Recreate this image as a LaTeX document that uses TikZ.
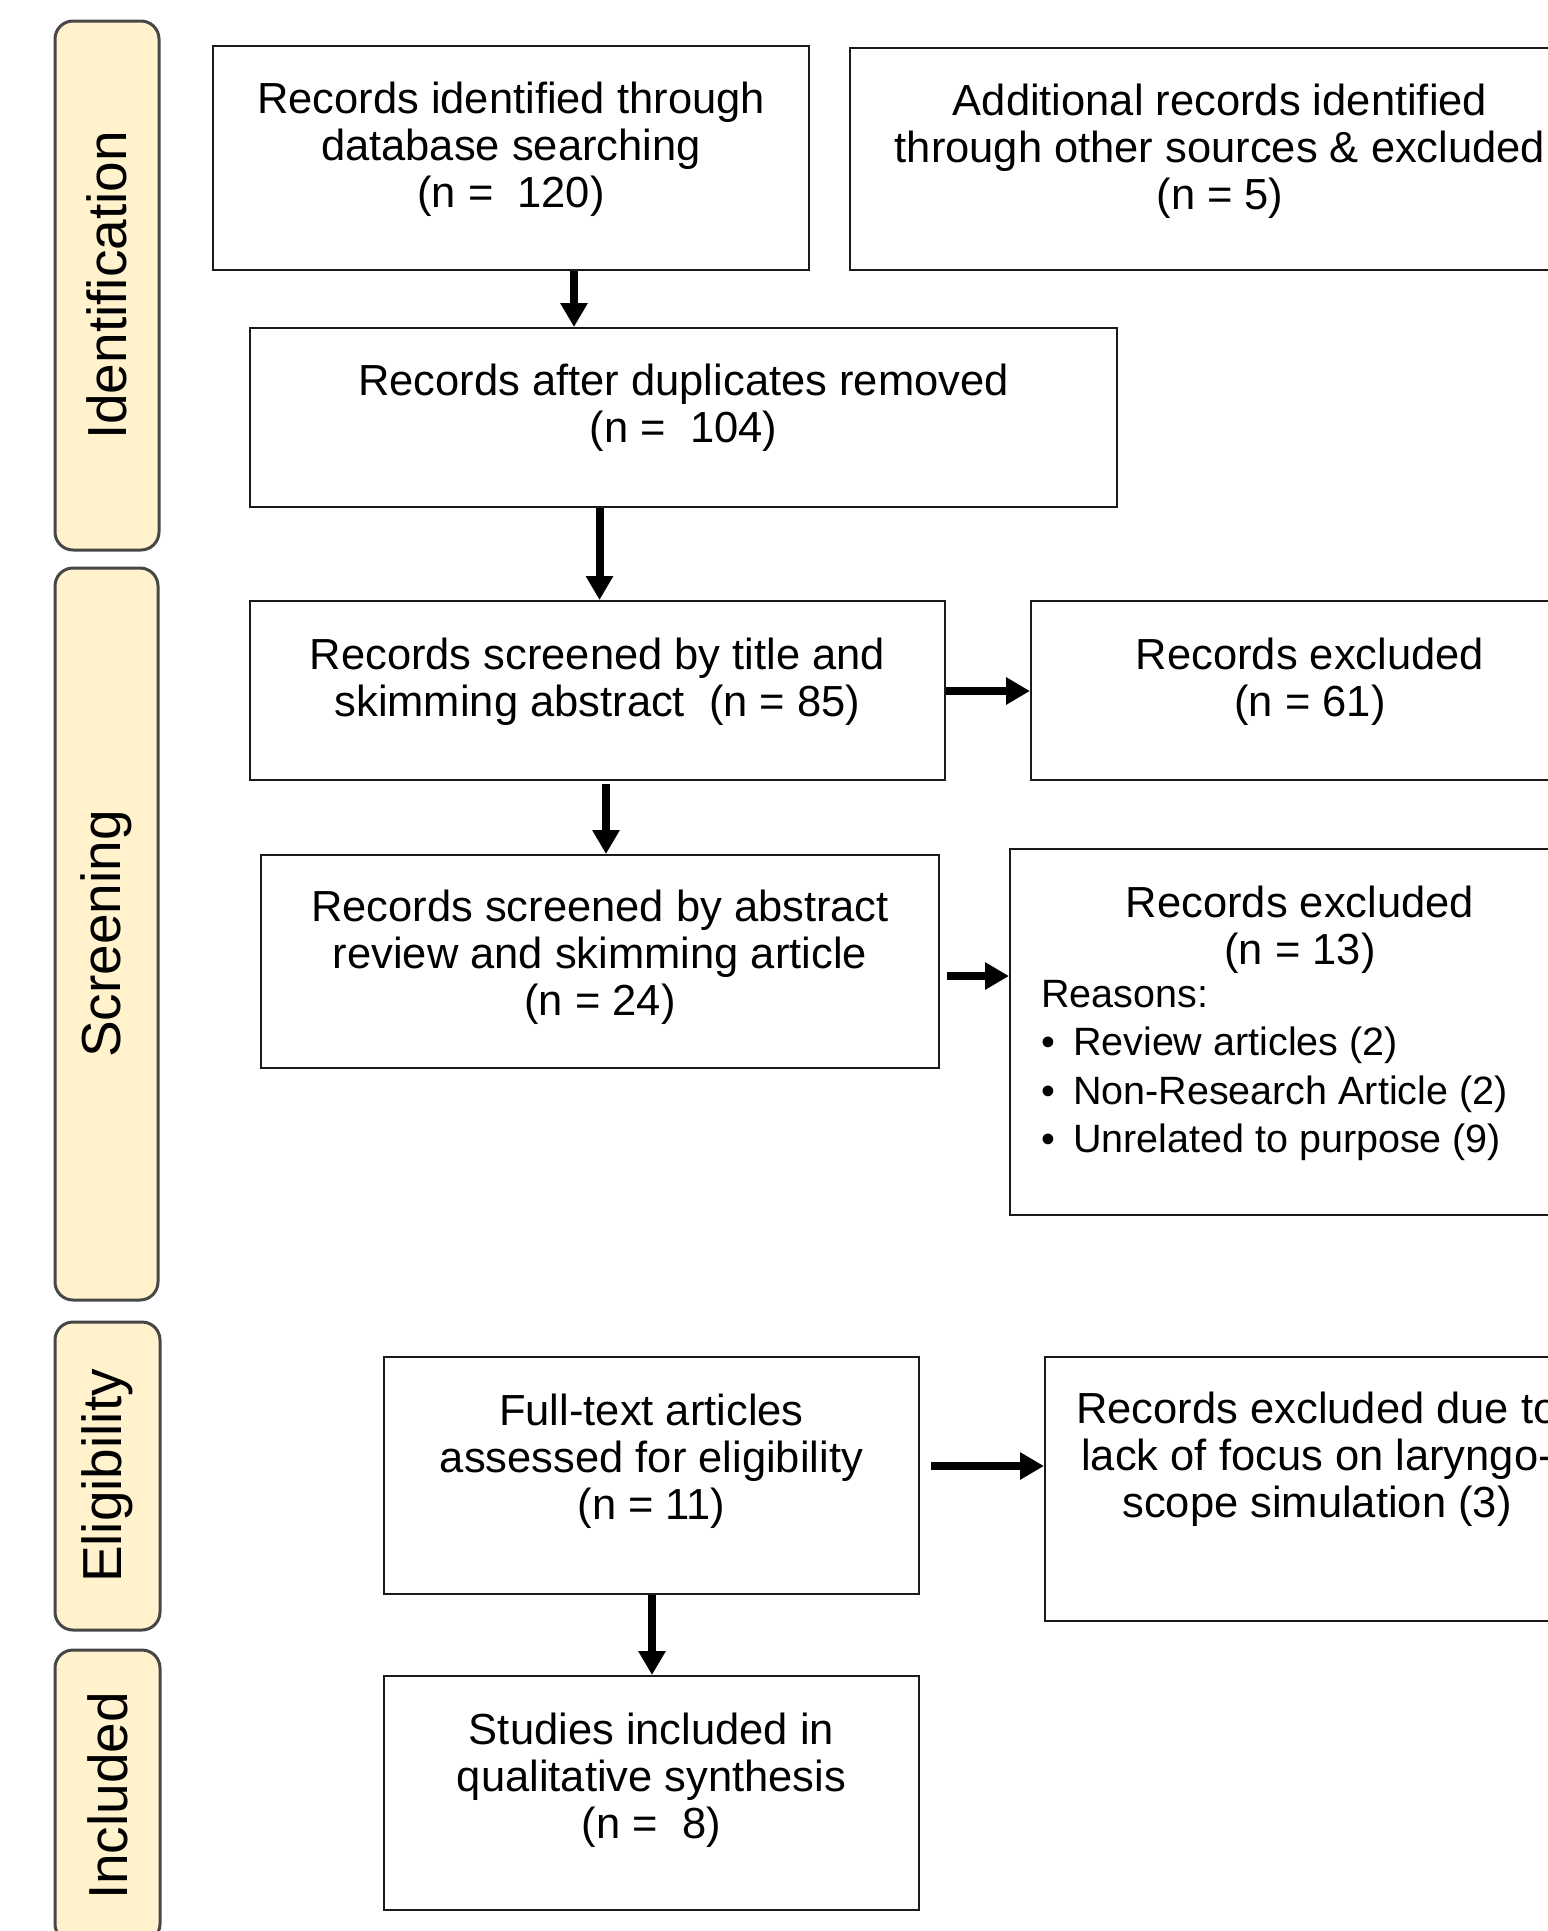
\documentclass[tikz,border=0pt]{standalone}
\usepackage{fontspec}
\setmainfont{Liberation Sans}
\usetikzlibrary{arrows.meta}
\definecolor{tabfill}{HTML}{FFF2CC}
\definecolor{tabline}{HTML}{474747}
\definecolor{boxline}{HTML}{1A1A1A}
\tikzset{
  box/.style={draw=boxline, line width=2pt, rectangle, inner sep=0pt},
  tabbox/.style={draw=tabline, fill=tabfill, line width=3pt, rectangle, rounded corners=18pt, inner sep=0pt},
  tablabel/.style={rotate=90, font=\fontsize{55}{60}\selectfont, inner sep=0pt},
  txt/.style={font=\fontsize{43.5}{47}\selectfont, align=center, inner sep=0pt, anchor=north},
  ltxt/.style={font=\fontsize{39.5}{48.5}\selectfont, align=left, inner sep=0pt, anchor=north west},
  arr/.style={line width=8pt, -{Triangle[length=24pt,width=26pt]}}
}
\newcommand{\itembul}{\textbullet\hspace{18pt}}
\begin{document}
\begin{tikzpicture}[x=1pt,y=-1pt]
\useasboundingbox (0,0) rectangle (1548,1931);
\clip (0,0) rectangle (1548,1931);
\fill[white] (0,0) rectangle (1548,1931);

% phase tabs
\node[tabbox, minimum width=104pt, minimum height=529pt] (t1) at (107,285.5) {};
\node[tablabel] (t1l) at (t1.center) {Identification};
\node[tabbox, minimum width=103pt, minimum height=732pt] (t2) at (106.5,934) {};
\node[tablabel] (t2l) at (t2.center) {Screening};
\node[tabbox, minimum width=105pt, minimum height=308pt] (t3) at (107.5,1476) {};
\node[tablabel] (t3l) at (t3.center) {Eligibility};
\node[tabbox, minimum width=105pt, minimum height=292pt] (t4) at (107.5,1796) {};
\node[tablabel] (t4l) at (t4.center) {Included};

% boxes
\node[box, minimum width=596pt, minimum height=224pt] (A) at (511,158) {};
\node[box, minimum width=740pt, minimum height=222pt] (B) at (1220,159) {};
\node[box, minimum width=867pt, minimum height=179pt] (C) at (683.5,417.5) {};
\node[box, minimum width=695pt, minimum height=179pt] (D) at (597.5,690.5) {};
\node[box, minimum width=559pt, minimum height=179pt] (E) at (1310.5,690.5) {};
\node[box, minimum width=678pt, minimum height=213pt] (F) at (600,961.5) {};
\node[box, minimum width=580pt, minimum height=366pt] (G) at (1300,1032) {};
\node[box, minimum width=535pt, minimum height=237pt] (H) at (651.5,1475.5) {};
\node[box, minimum width=545pt, minimum height=264pt] (I) at (1317.5,1489) {};
\node[box, minimum width=535pt, minimum height=234pt] (J) at (651.5,1793) {};

% texts
\node[txt] (At) at (511,82) {Records identified through\\database searching\\(n = \ 120)};
\node[txt] (Bt) at (1220,84) {Additional records identified\\through other sources \& excluded\\(n = 5)};
\node[txt] (Ct) at (683.5,364) {Records after duplicates removed\\(n = \ 104)};
\node[txt] (Dt) at (597.5,638) {Records screened by title and\\skimming abstract \ (n = 85)};
\node[txt] (Et) at (1310,638) {Records excluded\\(n = 61)};
\node[txt] (Ft) at (600,890) {Records screened by abstract\\review and skimming article\\(n = 24)};
\node[txt] (Gt) at (1300,886) {Records excluded\\(n = 13)};
\node[ltxt] (Gr) at (1041,980) {Reasons:\\\itembul Review articles (2)\\\itembul Non-Research Article (2)\\\itembul Unrelated to purpose (9)};
\node[txt] (Ht) at (651.5,1394) {Full-text articles\\assessed for eligibility\\(n = 11)};
\node[txt] (It) at (1317,1392) {Records excluded due to\\lack of focus on laryngo-\\scope simulation (3)};
\node[txt] (Jt) at (651.5,1713) {Studies included in\\qualitative synthesis\\(n = \ 8)};

% arrow guide coordinates
\coordinate (xac) at (574,0);
\coordinate (xcd) at (599.5,0);
\coordinate (xdf) at (606,0);
\coordinate (xhj) at (652,0);
\coordinate (yde) at (0,691);
\coordinate (yfg) at (0,976);
\coordinate (yhi) at (0,1466);

% arrows
\draw[arr] (A.south -| xac) -- (C.north -| xac);
\draw[arr] (C.south -| xcd) -- (D.north -| xcd);
\draw[arr, shorten <=3pt] (D.south -| xdf) -- (F.north -| xdf);
\draw[arr] (D.east |- yde) -- (E.west |- yde);
\draw[arr, shorten <=7pt] (F.east |- yfg) -- (G.west |- yfg);
\draw[arr, shorten <=11pt] (H.east |- yhi) -- (I.west |- yhi);
\draw[arr] (H.south -| xhj) -- (J.north -| xhj);
\end{tikzpicture}
\end{document}
